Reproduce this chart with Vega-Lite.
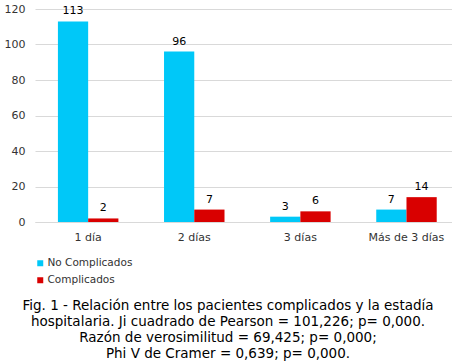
{
  "$schema": "https://vega.github.io/schema/vega-lite/v6.json",
  "width": 417,
  "height": 213,
  "padding": {"left": 4, "top": 3, "right": 0, "bottom": 0},
  "autosize": {"type": "pad"},
  "background": "white",
  "config": {
    "font": "DejaVu Sans",
    "view": {"stroke": null},
    "axis": {"labelFont": "DejaVu Sans", "labelFontSize": 11, "labelColor": "#333333"},
    "legend": {"labelFont": "DejaVu Sans", "labelFontSize": 10.5, "labelColor": "#333333"}
  },
  "title": {
    "text": [
      "Fig. 1 - Relación entre los pacientes complicados y la estadía",
      "hospitalaria. Ji cuadrado de Pearson = 101,226; p= 0,000.",
      "Razón de verosimilitud = 69,425; p= 0,000;",
      "Phi V de Cramer = 0,639; p= 0,000."
    ],
    "orient": "bottom",
    "anchor": "middle",
    "frame": "bounds",
    "font": "DejaVu Sans",
    "fontSize": 13.5,
    "fontWeight": "normal",
    "color": "#000000",
    "lineHeight": 16,
    "offset": 13
  },
  "data": {
    "values": [
      {"estadia": "1 día", "grupo": "No Complicados", "n": 113},
      {"estadia": "1 día", "grupo": "Complicados", "n": 2},
      {"estadia": "2 días", "grupo": "No Complicados", "n": 96},
      {"estadia": "2 días", "grupo": "Complicados", "n": 7},
      {"estadia": "3 días", "grupo": "No Complicados", "n": 3},
      {"estadia": "3 días", "grupo": "Complicados", "n": 6},
      {"estadia": "Más de 3 días", "grupo": "No Complicados", "n": 7},
      {"estadia": "Más de 3 días", "grupo": "Complicados", "n": 14}
    ]
  },
  "encoding": {
    "x": {
      "field": "estadia", "type": "nominal", "sort": null,
      "scale": {"paddingInner": 0.43, "paddingOuter": 0.18, "align": 0.6},
      "axis": {"title": null, "labelAngle": 0, "ticks": false, "domainColor": "#d9d9d9", "labelPadding": 9}
    },
    "xOffset": {"field": "grupo", "type": "nominal", "sort": ["No Complicados", "Complicados"], "scale": {"paddingInner": 0, "paddingOuter": 0}},
    "y": {
      "field": "n", "type": "quantitative",
      "scale": {"domain": [0, 120]},
      "axis": {"title": null, "values": [0, 20, 40, 60, 80, 100, 120], "domain": false, "ticks": false, "gridColor": "#d9d9d9", "labelPadding": 10}
    }
  },
  "layer": [
    {
      "mark": {"type": "bar"},
      "encoding": {
        "color": {
          "field": "grupo", "type": "nominal",
          "sort": ["No Complicados", "Complicados"],
          "scale": {"domain": ["No Complicados", "Complicados"], "range": ["#00C8F8", "#D90000"]},
          "legend": {"title": null, "orient": "bottom", "direction": "vertical", "symbolType": "square", "symbolSize": 36, "labelOffset": 2, "rowPadding": 6, "offset": 16}
        }
      }
    },
    {
      "mark": {"type": "text", "dy": -5, "fontSize": 11, "color": "#000000", "baseline": "bottom"},
      "encoding": {"text": {"field": "n", "type": "quantitative"}}
    }
  ]
}
